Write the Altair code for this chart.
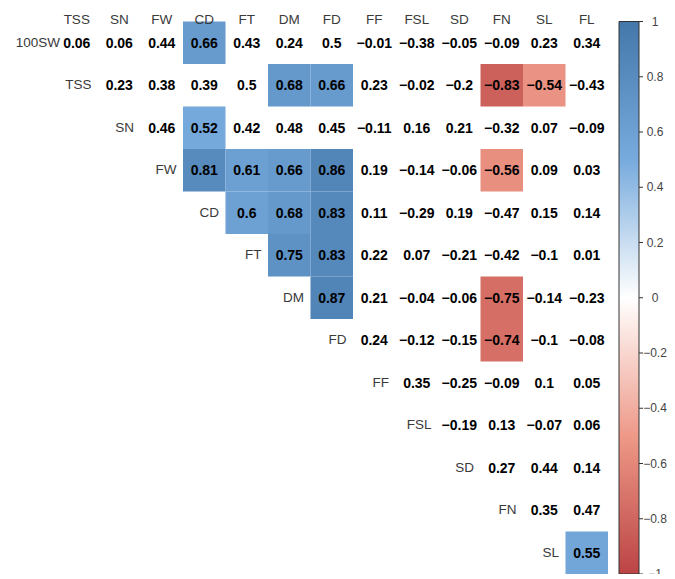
import altair as alt
import pandas as pd

names = ["100SW", "TSS", "SN", "FW", "CD", "FT", "DM", "FD", "FF", "FSL", "SD", "FN", "SL", "FL"]
row_names = names[:-1]
col_names = names[1:]

r_100SW = [0.06, 0.06, 0.44, 0.66, 0.43, 0.24, 0.5, -0.01, -0.38, -0.05, -0.09, 0.23, 0.34]
r_TSS = [0.23, 0.38, 0.39, 0.5, 0.68, 0.66, 0.23, -0.02, -0.2, -0.83, -0.54, -0.43]
r_SN = [0.46, 0.52, 0.42, 0.48, 0.45, -0.11, 0.16, 0.21, -0.32, 0.07, -0.09]
r_FW = [0.81, 0.61, 0.66, 0.86, 0.19, -0.14, -0.06, -0.56, 0.09, 0.03]
r_CD = [0.6, 0.68, 0.83, 0.11, -0.29, 0.19, -0.47, 0.15, 0.14]
r_FT = [0.75, 0.83, 0.22, 0.07, -0.21, -0.42, -0.1, 0.01]
r_DM = [0.87, 0.21, -0.04, -0.06, -0.75, -0.14, -0.23]
r_FD = [0.24, -0.12, -0.15, -0.74, -0.1, -0.08]
r_FF = [0.35, -0.25, -0.09, 0.1, 0.05]
r_FSL = [-0.19, 0.13, -0.07, 0.06]
r_SD = [0.27, 0.44, 0.14]
r_FN = [0.35, 0.47]
r_SL = [0.55]
values = [r_100SW, r_TSS, r_SN, r_FW, r_CD, r_FT, r_DM, r_FD, r_FF, r_FSL, r_SD, r_FN, r_SL]

significant = [
    ("100SW", "CD"), ("TSS", "DM"), ("TSS", "FD"), ("TSS", "FN"), ("TSS", "SL"),
    ("SN", "CD"), ("FW", "CD"), ("FW", "FT"), ("FW", "DM"), ("FW", "FD"), ("FW", "FN"),
    ("CD", "FT"), ("CD", "DM"), ("CD", "FD"), ("FT", "DM"), ("FT", "FD"),
    ("DM", "FD"), ("DM", "FN"), ("FD", "FN"), ("SL", "FL"),
]

legend_values = [1, 0.8, 0.6, 0.4, 0.2, 0, -0.2, -0.4, -0.6, -0.8, -1]
color_domain = [-1, -0.5, 0, 0.5, 1]
color_range = ["#BB4444", "#EE9988", "#FFFFFF", "#77AADD", "#4477AA"]

recs = []
for i, rn in enumerate(row_names):
    for k, v in enumerate(values[i]):
        cn = col_names[i + k]
        recs.append({"row": rn, "col": cn, "value": v, "sig": (rn, cn) in significant})
df = pd.DataFrame(recs)
sig_df = df[df["sig"]]

rowlab_df = pd.DataFrame({"row": row_names[1:], "col": row_names[1:]})
first_df = pd.DataFrame({"row": [row_names[0]]})
collab_df = pd.DataFrame({"col": col_names})
tick_df = pd.DataFrame({"v": legend_values})

W = 552.5
H = 552.5
xs = alt.Scale(domain=col_names, paddingInner=0, paddingOuter=0)
ys = alt.Scale(domain=row_names, paddingInner=0, paddingOuter=0)

tiles = alt.Chart(sig_df).mark_rect().encode(
    x=alt.X("col:N", scale=xs, axis=None),
    y=alt.Y("row:N", scale=ys, axis=None),
    color=alt.Color(
        "value:Q",
        scale=alt.Scale(domain=color_domain, range=color_range, interpolate="rgb"),
        legend=alt.Legend(
            orient="none", legendX=563.5, legendY=0, direction="vertical",
            gradientLength=H, gradientThickness=20,
            gradientStrokeColor="#333333", gradientStrokeWidth=1,
            values=legend_values, labelOpacity=0, labelFontSize=1,
            title=None, padding=0, labelOverlap=False,
        ),
    ),
)

nums = alt.Chart(df).mark_text(
    font="Liberation Sans", fontWeight="bold", fontSize=14, color="black", baseline="middle", dy=1
).encode(
    x=alt.X("col:N", scale=xs, axis=None),
    y=alt.Y("row:N", scale=ys, axis=None),
    text=alt.Text("value:Q", format=".2~f"),
)

rowlabs = alt.Chart(rowlab_df).mark_text(
    font="Liberation Sans", fontSize=13.5, color="#3a3a3a", align="right", baseline="middle", dx=-6.5
).encode(
    x=alt.X("col:N", scale=xs, axis=None, bandPosition=1),
    y=alt.Y("row:N", scale=ys, axis=None),
    text="row:N",
)

firstlab = alt.Chart(first_df).mark_text(
    font="Liberation Sans", fontSize=13.5, color="#3a3a3a", align="right", baseline="middle"
).encode(
    x=alt.value(4.5),
    y=alt.Y("row:N", scale=ys, axis=None),
    text="row:N",
)

collabs = alt.Chart(collab_df).mark_text(
    font="Liberation Sans", fontSize=13.5, color="#3a3a3a", align="center", baseline="alphabetic"
).encode(
    x=alt.X("col:N", scale=xs, axis=None),
    y=alt.value(2),
    text="col:N",
)

grid_layers = alt.layer(tiles, nums, rowlabs, firstlab, collabs)

bar_y = alt.Y("v:Q", scale=alt.Scale(domain=[-1, 1], nice=False, zero=False), axis=None)

ticks = alt.Chart(tick_df).mark_rule(color="#333333", strokeWidth=1).encode(
    y=bar_y,
    x=alt.value(583.5),
    x2=alt.value(587.5),
)

tick_labels = alt.Chart(tick_df).mark_text(
    font="Liberation Sans", fontSize=12, color="#444444", align="center", baseline="middle"
).encode(
    y=bar_y,
    x=alt.value(599.5),
    text=alt.Text("v:Q", format="~g"),
)

chart = alt.layer(grid_layers, alt.layer(ticks, tick_labels)).resolve_scale(y="independent").properties(
    width=W, height=H,
    autosize=alt.AutoSizeParams(type="none"),
    padding={"left": 47.5, "top": 13.5, "right": 59, "bottom": 0},
).configure_view(stroke=None)

chart.save("out.html", embed_options={"renderer": "svg", "actions": False})
